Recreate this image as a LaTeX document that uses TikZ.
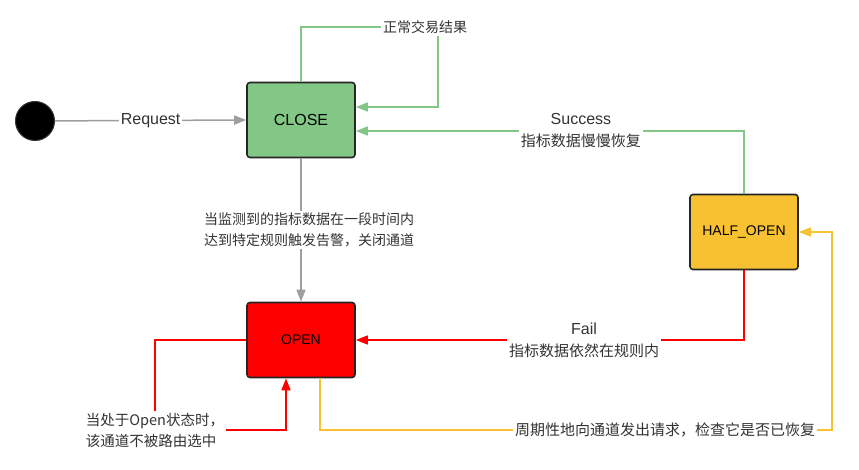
\documentclass[tikz,border=0pt]{standalone}
\usepackage{fontspec}
\setmainfont{Liberation Sans}
\newfontfamily\cjk{Noto Sans CJK SC}
\usetikzlibrary{arrows.meta}
\definecolor{closegreen}{HTML}{82C785}
\definecolor{openred}{HTML}{FF0000}
\definecolor{halfyellow}{HTML}{F8C131}
\definecolor{linegray}{HTML}{9E9E9E}
\definecolor{textgray}{HTML}{333333}
\begin{document}
\begin{tikzpicture}[x=1pt,y=-1pt,
    state/.style={draw=black!85,line width=1.6pt,rounded corners=3pt,minimum width=108pt,minimum height=75pt,font=\fontsize{14}{16}\selectfont},
    lab/.style={fill=white,inner sep=2pt,align=center,text=textgray,font=\fontsize{14}{21}\selectfont},
    biglab/.style={lab,font=\fontsize{15}{22}\selectfont},
    link/.style={line width=1.5pt,-{Triangle[length=12pt,width=9pt]}}]
        \useasboundingbox (0,0) rectangle (859,470);
        % states
        \node[circle,fill=black,draw=black!80,line width=1pt,minimum size=39pt,inner sep=0pt] (start) at (35,121) {};
        \node[state,fill=closegreen,font=\fontsize{16}{18}\selectfont] (close) at (301,120) {CLOSE};
        \node[state,fill=halfyellow] (half) at (744,232) {HALF\_OPEN};
        \node[state,fill=openred] (open) at (301,340) {OPEN};
        % request
        \draw[link,draw=linegray,fill=linegray] (start) -- node[lab,font=\fontsize{16}{18}\selectfont] {Request} (close.west);
        % normal result loop
        \coordinate (okcorner) at (438,27);
        \node[lab] (oklab) at (425,27) {\cjk 正常交易结果};
        \draw[line width=1.5pt,closegreen] (close.north) |- (oklab.west);
        \draw[link,closegreen] (oklab.south -| okcorner) |- ([yshift=13pt]close.east);
        % success
        \draw[link,closegreen] (half.north) |- node[biglab,pos=0.71] {{\fontsize{16}{18}\selectfont Success}\\\cjk 指标数据慢慢恢复} ([yshift=-11pt]close.east);
        % alarm
        \draw[link,linegray] (close.south) -- node[lab,xshift=8pt] {\cjk 当监测到的指标数据在一段时间内\\\cjk 达到特定规则触发告警，关闭通道} (open.north);
        % fail
        \draw[link,openred] (half.south) |- node[biglab,pos=0.706] {{\fontsize{16}{18}\selectfont Fail}\\\cjk 指标数据依然在规则内} (open.east);
        % open self loop
        \node[lab,align=left,font=\fontsize{14.5}{21}\selectfont\cjk] (openlab) at (155,430) {当处于Open状态时，\\该通道不被路由选中};
        \draw[line width=1.5pt,openred] (open.west) -| (openlab.north);
        \draw[link,openred] (openlab.east) -| ([xshift=-15pt]open.south);
        % retry
        \coordinate (retcorner) at (832,430);
        \draw[link,halfyellow] ([xshift=19pt]open.south) |- node[biglab,pos=0.837] {\cjk 周期性地向通道发出请求，检查它是否已恢复} (retcorner) |- (half.east);
\end{tikzpicture}
\end{document}
